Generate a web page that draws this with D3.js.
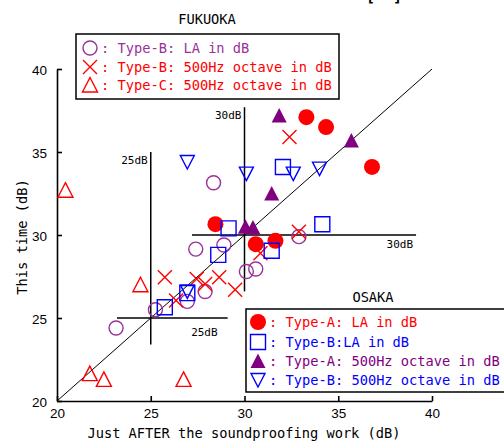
<!DOCTYPE html>
<html>
<head>
<meta charset="utf-8">
<script src="https://cdn.jsdelivr.net/npm/d3@7"></script>
<style>
  body { margin: 0; background: #fff; }
  svg { display: block; }
  .mono { font-family: "DejaVu Sans Mono", monospace; font-size: 13.7px; white-space: pre; }
  .tick text { font-family: "Liberation Sans", sans-serif; font-size: 13.5px; fill: #000; }
</style>
</head>
<body>
<script>
// axis ticks
const xTicks = [20, 25, 30, 35, 40];
const yTicks = [20, 25, 30, 35, 40];

// FUKUOKA series [after, this time]
const fukTypeB_LA = [[28.35, 33.15], [27.4, 29.15], [28.9, 29.4], [30.1, 27.8], [30.6, 27.95],
  [32.9, 29.9], [27.9, 26.6], [26.95, 26.0], [25.25, 25.5], [23.15, 24.4]];
const fukTypeB_500 = [[32.4, 35.9], [32.9, 30.2], [30.85, 28.9], [25.75, 27.45], [27.45, 27.35],
  [27.9, 27.05], [28.65, 27.45], [29.5, 26.7], [26.35, 26.05]];
const fukTypeC_500 = [[20.45, 32.7], [24.45, 27.0], [21.75, 21.65], [22.5, 21.3], [26.75, 21.3]];

// OSAKA series
const osaTypeA_LA = [[33.3, 37.1], [34.35, 36.5], [36.8, 34.1], [28.45, 30.65], [30.6, 29.45], [31.65, 29.65]];
const osaTypeB_LA = [[29.15, 30.4], [28.6, 28.8], [31.45, 29.05], [32.05, 34.1], [34.15, 30.65],
  [25.75, 25.65], [26.95, 26.5]];
const osaTypeA_500 = [[31.85, 37.2], [35.7, 35.7], [31.45, 32.5], [30.05, 30.5], [30.45, 30.45]];
const osaTypeB_500 = [[26.95, 34.4], [30.1, 33.7], [32.6, 33.7], [34.0, 34.0], [26.95, 26.6]];

// reference cross lines: [at, from, to]
const crossV = [[25, 23.4, 35.0], [30, 26.6, 37.7]];
const crossH = [[25, 23.2, 29.1], [30, 27.2, 39.15]];

const width = 504, height = 442;
const purple = "#993399", darkPurple = "#800080", red = "#ff0000", blue = "#0000ff";

const svg = d3.select("body").append("svg")
  .attr("width", width)
  .attr("height", height);

const x = d3.scaleLinear().domain([20, 40]).range([57, 432]);
const y = d3.scaleLinear().domain([20, 40]).range([401, 69]);

// marker paths, drawn around (0,0)
const markers = {
  circle: "M7,0A7,7 0 1,1 -7,0A7,7 0 1,1 7,0Z",
  dot: "M8,0A8,8 0 1,1 -8,0A8,8 0 1,1 8,0Z",
  square: "M-7.5,-7.5H7.5V7.5H-7.5Z",
  cross: "M-7,-7L7,7M7,-7L-7,7",
  tri: "M0,-7.5L7.5,7L-7.5,7Z",
  triDown: "M0,7L7,-6.5L-7,-6.5Z"
};

function drawSeries(data, shape, fill, stroke) {
  svg.append("g").selectAll("path")
    .data(data)
    .enter().append("path")
    .attr("d", markers[shape])
    .attr("transform", d => `translate(${x(d[0])},${y(d[1])})`)
    .attr("fill", fill)
    .attr("stroke", stroke)
    .attr("stroke-width", 1.4);
}

// axes
const gx = svg.append("g")
  .attr("transform", `translate(0,${y(20)})`)
  .call(d3.axisBottom(x).tickValues(xTicks).tickSize(-5).tickSizeOuter(0).tickPadding(7));
const gy = svg.append("g")
  .attr("transform", `translate(${x(20)},0)`)
  .call(d3.axisLeft(y).tickValues(yTicks).tickSize(-5).tickSizeOuter(0).tickPadding(10));
[gx, gy].forEach(g => {
  g.select(".domain").attr("stroke", "#000").attr("stroke-width", 1.6);
  g.selectAll(".tick line").attr("stroke", "#000").attr("stroke-width", 1.6);
});
gy.selectAll(".tick text").attr("dy", "0.4em");

// diagonal y = x
svg.append("line")
  .attr("x1", x(20)).attr("y1", y(20))
  .attr("x2", x(40)).attr("y2", y(40))
  .attr("stroke", "#000").attr("stroke-width", 1);

// cross lines
svg.append("g").selectAll("line.v")
  .data(crossV).enter().append("line")
  .attr("x1", d => x(d[0])).attr("x2", d => x(d[0]))
  .attr("y1", d => y(d[1])).attr("y2", d => y(d[2]))
  .attr("stroke", "#000").attr("stroke-width", 1.5);
svg.append("g").selectAll("line.h")
  .data(crossH).enter().append("line")
  .attr("y1", d => y(d[0])).attr("y2", d => y(d[0]))
  .attr("x1", d => x(d[1])).attr("x2", d => x(d[2]))
  .attr("stroke", "#000").attr("stroke-width", 1.5);

svg.append("g").selectAll("text")
  .data(crossV).enter().append("text")
  .attr("x", d => x(d[0]) - 3)
  .attr("y", d => y(d[2]) + 12)
  .attr("text-anchor", "end")
  .style("font-family", "DejaVu Sans Mono, monospace").style("font-size", "11px")
  .text(d => d[0] + "dB");
svg.append("g").selectAll("text")
  .data(crossH).enter().append("text")
  .attr("x", (d, i) => x(d[2]) - (i === 0 ? 10 : 3))
  .attr("y", d => y(d[0]) + (d[0] === 25 ? 18 : 13))
  .attr("text-anchor", "end")
  .style("font-family", "DejaVu Sans Mono, monospace").style("font-size", "11px")
  .text(d => d[0] + "dB");

// data
drawSeries(fukTypeC_500, "tri", "none", red);
drawSeries(fukTypeB_LA, "circle", "none", purple);
drawSeries(fukTypeB_500, "cross", "none", red);
drawSeries(osaTypeA_LA, "dot", red, "none");
drawSeries(osaTypeB_LA, "square", "none", blue);
drawSeries(osaTypeA_500, "tri", darkPurple, "none");
drawSeries(osaTypeB_500, "triDown", "none", blue);

// axis titles
svg.append("text").attr("class", "mono")
  .attr("x", 244).attr("y", 438).attr("text-anchor", "middle")
  .text("Just AFTER the soundproofing work (dB)");
svg.append("text").attr("class", "mono")
  .attr("transform", "translate(27,237) rotate(-90)").attr("text-anchor", "middle")
  .text("This time (dB)");

// heading bracket, cut off at the top edge as in the original
svg.append("text").attr("class", "mono")
  .attr("x", 366).attr("y", 1)
  .style("font-size", "15px").style("font-weight", "bold")
  .text("[  ]");

// legends
function legend(title, titleX, titleY, box, rows, symX) {
  svg.append("text").attr("class", "mono")
    .attr("x", titleX).attr("y", titleY).attr("text-anchor", "middle")
    .text(title);
  svg.append("rect")
    .attr("x", box[0]).attr("y", box[1]).attr("width", box[2]).attr("height", box[3])
    .attr("fill", "#fff").attr("stroke", "#000").attr("stroke-width", 1.5);
  rows.forEach(r => {
    const g = svg.append("g").attr("transform", `translate(${symX},${r.y})`);
    g.append("path").attr("d", markers[r.shape])
      .attr("fill", r.fill).attr("stroke", r.stroke).attr("stroke-width", 1.4);
    g.append("text").attr("class", "mono")
      .attr("x", 11).attr("y", 5).attr("fill", r.color)
      .text(": " + r.label);
  });
}

legend("FUKUOKA", 207, 24, [76, 34, 263, 65], [
  {y: 48, shape: "circle", fill: "none", stroke: purple, color: purple, label: "Type-B: LA in dB"},
  {y: 67, shape: "cross", fill: "none", stroke: red, color: red, label: "Type-B: 500Hz octave in dB"},
  {y: 85, shape: "tri", fill: "none", stroke: red, color: red, label: "Type-C: 500Hz octave in dB"}
], 90);

legend("OSAKA", 373, 302, [246, 309, 262, 83], [
  {y: 322, shape: "dot", fill: red, stroke: "none", color: red, label: "Type-A: LA in dB"},
  {y: 342, shape: "square", fill: "none", stroke: blue, color: blue, label: "Type-B:LA in dB"},
  {y: 361, shape: "tri", fill: darkPurple, stroke: "none", color: darkPurple, label: "Type-A: 500Hz octave in dB"},
  {y: 380, shape: "triDown", fill: "none", stroke: blue, color: blue, label: "Type-B: 500Hz octave in dB"}
], 258);
</script>
</body>
</html>
